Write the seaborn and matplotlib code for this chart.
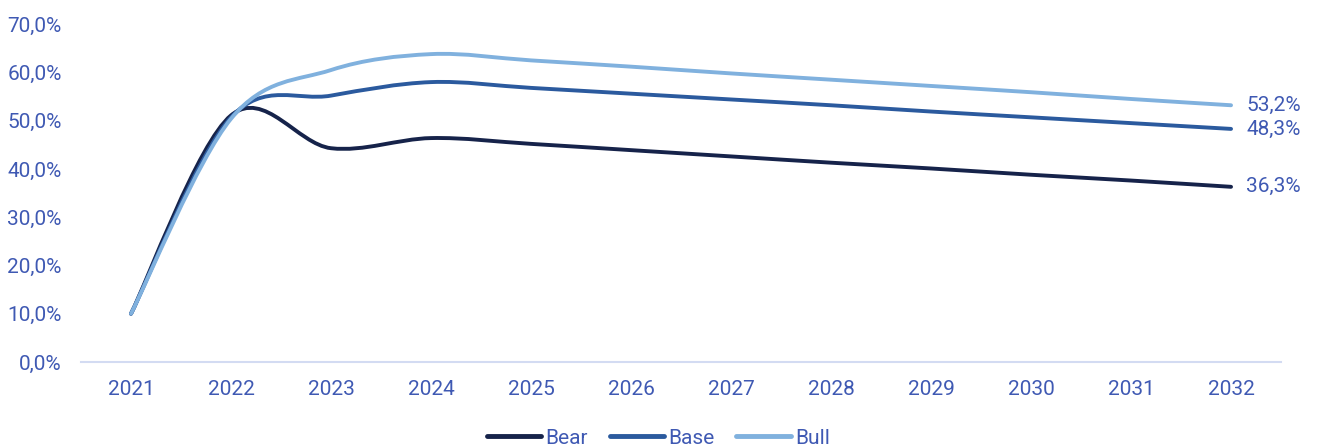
import matplotlib
matplotlib.use("Agg")
import matplotlib.pyplot as plt
from matplotlib.path import Path
from matplotlib.patches import PathPatch
from matplotlib.lines import Line2D
from matplotlib.ticker import FuncFormatter
import seaborn as sns
import numpy as np
import pandas as pd

years = [2021, 2022, 2023, 2024, 2025, 2026, 2027, 2028, 2029, 2030, 2031, 2032]
bear = [10.0, 51.1, 44.3, 46.4, 45.2, 43.9, 42.6, 41.3, 40.1, 38.8, 37.6, 36.3]
base = [10.0, 50.7, 55.2, 58.0, 56.8, 55.6, 54.4, 53.2, 51.9, 50.7, 49.5, 48.3]
bull = [10.0, 50.4, 60.5, 63.8, 62.5, 61.2, 59.8, 58.5, 57.2, 55.9, 54.5, 53.2]

scenarios = ["Bear", "Base", "Bull"]
colors = {"Bear": "#16234a", "Base": "#2b5a9e", "Bull": "#80b1de"}
text_col = "#3f59b3"

df = pd.DataFrame({"year": years * 3,
                   "value": bear + base + bull,
                   "scenario": np.repeat(scenarios, len(years))})

sns.set_theme(style="white")
plt.rcParams["font.family"] = ["Roboto", "DejaVu Sans"]

fig = plt.figure(figsize=(13.17, 4.48), dpi=100)
ax = fig.add_axes([0.0615, 0.192, 0.9112, 0.754])


def smooth_path(x, y):
    # Excel-style smoothed line: cubic Bezier through each point
    x = np.asarray(x, float)
    y = np.asarray(y, float)
    xp = np.concatenate([[x[0]], x, [x[-1]]])
    yp = np.concatenate([[y[0]], y, [y[-1]]])
    verts = [(x[0], y[0])]
    codes = [Path.MOVETO]
    for i in range(len(x) - 1):
        c1 = (x[i] + (xp[i + 2] - xp[i]) / 6, y[i] + (yp[i + 2] - yp[i]) / 6)
        c2 = (x[i + 1] - (xp[i + 3] - xp[i + 1]) / 6, y[i + 1] - (yp[i + 3] - yp[i + 1]) / 6)
        verts += [c1, c2, (x[i + 1], y[i + 1])]
        codes += [Path.CURVE4] * 3
    return Path(verts, codes)


for name in scenarios:
    sub = df[df["scenario"] == name]
    patch = PathPatch(smooth_path(sub["year"], sub["value"]), facecolor="none",
                      edgecolor=colors[name], lw=2.8, capstyle="round")
    ax.add_patch(patch)
    last = sub["value"].iloc[-1]
    ax.annotate(f"{last:.1f}%".replace(".", ","), (sub["year"].iloc[-1], last),
                xytext=(11, 0), textcoords="offset points", va="center",
                ha="left", color=text_col, fontsize=15)

ax.set_xlim(2020.5, 2032.5)
ax.set_ylim(0, 70)
ax.set_xticks(years)
ax.set_yticks(range(0, 71, 10))
ax.yaxis.set_major_formatter(FuncFormatter(lambda v, p: f"{v:.1f}%".replace(".", ",")))
ax.tick_params(axis="both", length=0, labelsize=15, labelcolor=text_col)
ax.tick_params(axis="x", pad=13)
ax.tick_params(axis="y", pad=14)
ax.set_xlabel("")
ax.set_ylabel("")
ax.grid(False)
sns.despine(ax=ax, left=True)
ax.spines["bottom"].set_color("#d3dbf2")
ax.spines["bottom"].set_linewidth(1.5)

handles = [Line2D([0], [0], color=colors[n], lw=3.5, solid_capstyle="round") for n in scenarios]
fig.legend(handles, scenarios, loc="center", bbox_to_anchor=(0.5, 0.022), ncol=3,
           frameon=False, fontsize=15, labelcolor=text_col, handlelength=2.6,
           handletextpad=0.2, columnspacing=1.05)

fig.savefig("out.png", dpi=100)
